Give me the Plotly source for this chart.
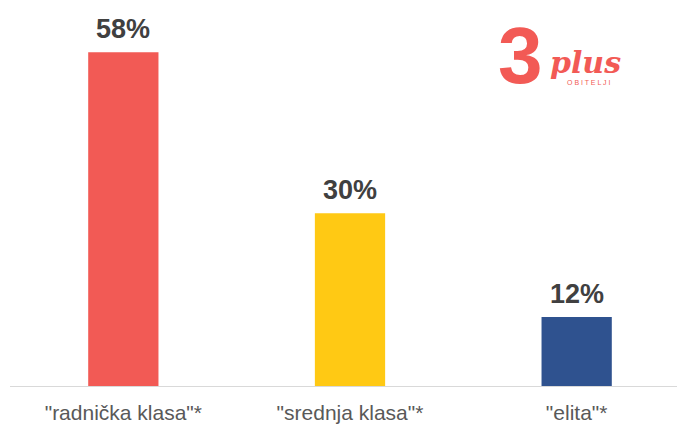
import plotly.graph_objects as go

categories = ['"radnička klasa"*', '"srednja klasa"*', '"elita"*']
values = [58, 30, 12]
labels = ["58%", "30%", "12%"]
colors = ["#F25A55", "#FFC914", "#2F528F"]

fig = go.Figure(go.Bar(
    x=categories, y=values, marker_color=colors, marker_line_width=0,
    hoverinfo="skip",
))
for c, v, t in zip(categories, values, labels):
    fig.add_annotation(x=c, y=v, text="<b>%s</b>" % t, showarrow=False,
                       yanchor="bottom", yshift=6,
                       font=dict(family="Liberation Sans, Arial", size=27, color="#404040"))
fig.update_layout(
    width=685, height=427, margin=dict(l=2, r=3, t=20, b=49),
    paper_bgcolor="white", plot_bgcolor="white", bargap=0.69,
    showlegend=False,
    xaxis=dict(showline=True, linecolor="#D9D9D9", linewidth=1, ticks="",
               ticklabelstandoff=8,
               tickfont=dict(family="Liberation Sans, Arial", size=21, color="#595959")),
    yaxis=dict(range=[0, 62.2], visible=False, showgrid=False),
)
# logo
fig.add_annotation(xref="paper", yref="paper", x=0.751, y=0.922, text="<b>3</b>",
                   showarrow=False, xanchor="center", yanchor="middle",
                   font=dict(family="Liberation Sans", size=80, color="#F25A55"))
fig.add_annotation(xref="paper", yref="paper", x=0.846, y=0.905, text="<i><b>plus</b></i>",
                   showarrow=False, xanchor="center", yanchor="middle",
                   font=dict(family="DejaVu Serif", size=30, color="#F25A55"))
fig.add_annotation(xref="paper", yref="paper", x=0.85, y=0.849, text="O B I T E L J I",
                   showarrow=False, xanchor="center", yanchor="middle",
                   font=dict(family="Liberation Sans", size=7, color="#F25A55"))
fig.write_html("out.html")
